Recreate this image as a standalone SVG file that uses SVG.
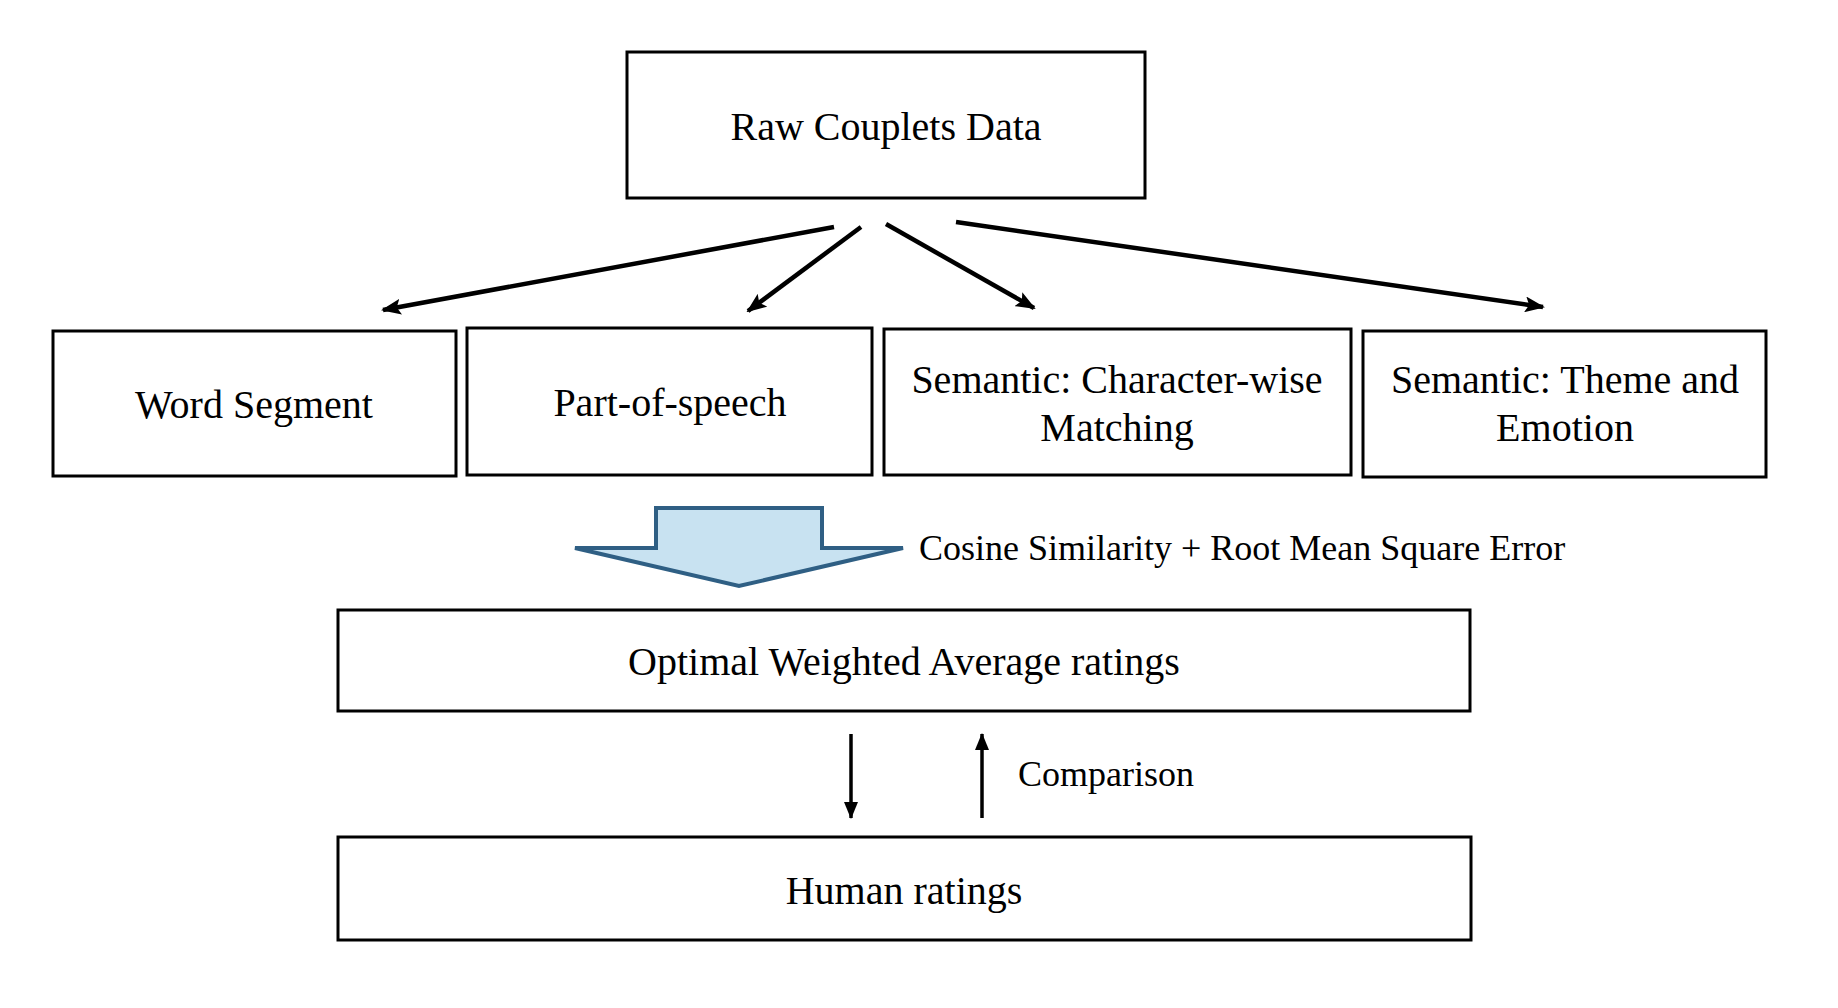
<svg xmlns="http://www.w3.org/2000/svg" width="1838" height="1008" viewBox="0 0 1838 1008">
<style>
.box{fill:#fff;stroke:#000;stroke-width:3}
.t{font-family:"Liberation Serif","Times New Roman",serif;font-size:40px;fill:#000;text-anchor:middle}
.l{font-family:"Liberation Serif","Times New Roman",serif;font-size:36px;fill:#000}
.c{stroke:#000;stroke-width:4.5;fill:none}
.v{stroke:#000;stroke-width:3.5;fill:none}
</style>
<defs>
<marker id="ah" markerUnits="userSpaceOnUse" markerWidth="20" markerHeight="16" refX="18" refY="8" orient="auto">
<path d="M0,0 L20,8 L0,16 L4,8 z" fill="#000"/>
</marker>
<marker id="ahs" markerUnits="userSpaceOnUse" markerWidth="17" markerHeight="14" refX="16" refY="7" orient="auto">
<path d="M0,0 L17,7 L0,14 z" fill="#000"/>
</marker>
</defs>
<rect width="1838" height="1008" fill="#fff"/>
<g id="raw">
<rect class="box" x="627" y="52" width="518" height="146"/>
<text class="t" x="886" y="140">Raw Couplets Data</text>
</g>
<g id="word">
<rect class="box" x="53" y="331" width="403" height="145"/>
<text class="t" x="254" y="418">Word Segment</text>
</g>
<g id="pos">
<rect class="box" x="467" y="328" width="405" height="147"/>
<text class="t" x="670" y="416">Part-of-speech</text>
</g>
<g id="semchar">
<rect class="box" x="884" y="329" width="467" height="146"/>
<text class="t" x="1117" y="393">Semantic: Character-wise</text>
<text class="t" x="1117" y="441">Matching</text>
</g>
<g id="semtheme">
<rect class="box" x="1363" y="331" width="403" height="146"/>
<text class="t" x="1565" y="393">Semantic: Theme and</text>
<text class="t" x="1565" y="441">Emotion</text>
</g>
<g id="blockarrow">
<polygon points="656,508 822,508 822,548 903,548 739,586 575,548 656,548" fill="#C8E2F1" stroke="#2F5F84" stroke-width="4" stroke-linejoin="miter"/>
<text class="l" x="919" y="560">Cosine Similarity + Root Mean Square Error</text>
</g>
<g id="optimal">
<rect class="box" x="338" y="610" width="1132" height="101"/>
<text class="t" x="904" y="675">Optimal Weighted Average ratings</text>
</g>
<g id="human">
<rect class="box" x="338" y="837" width="1133" height="103"/>
<text class="t" x="904" y="904">Human ratings</text>
</g>
<g id="connectors">
<line class="c" x1="834" y1="227" x2="383" y2="310" marker-end="url(#ah)"/>
<line class="c" x1="861" y1="227" x2="748" y2="311" marker-end="url(#ah)"/>
<line class="c" x1="886" y1="224" x2="1034" y2="308" marker-end="url(#ah)"/>
<line class="c" x1="956" y1="222" x2="1543" y2="307" marker-end="url(#ah)"/>
<line class="v" x1="851" y1="734" x2="851" y2="818" marker-end="url(#ahs)"/>
<line class="v" x1="982" y1="818" x2="982" y2="734" marker-end="url(#ahs)"/>
<text class="l" x="1018" y="786">Comparison</text>
</g>
</svg>
